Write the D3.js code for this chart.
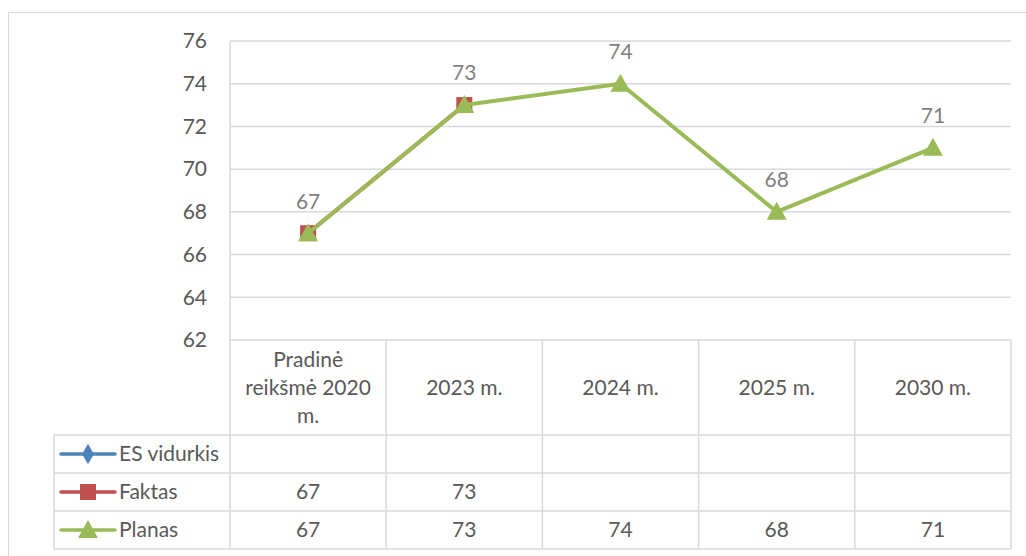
<!DOCTYPE html>
<html><head><meta charset="utf-8">
<script src="https://cdn.jsdelivr.net/npm/d3@7"></script>
<style>body{margin:0;background:#fff}svg{display:block}text{font-family:Lato,"Open Sans",sans-serif}</style>
</head><body><svg id="c" width="1026" height="556"></svg>
<script>
const categories = ["Pradinė reikšmė 2020 m.", "2023 m.", "2024 m.", "2025 m.", "2030 m."];
const categoryLines = [["Pradinė","reikšmė 2020","m."],["2023 m."],["2024 m."],["2025 m."],["2030 m."]];
const esVidurkis = [null, null, null, null, null];
const faktas = [67, 73, null, null, null];
const planas = [67, 73, 74, 68, 71];
const yTicks = [62, 64, 66, 68, 70, 72, 74, 76];
const seriesNames = ["ES vidurkis", "Faktas", "Planas"];

const svg = d3.select("#c");
const L = 230, R = 1011, T = 41, B = 340;
const tableBottom = 549, headerBottom = 435, legendLeft = 54;
const FS = 21;
const x = d3.scaleBand().domain(categories).range([L, R]);
const y = d3.scaleLinear().domain([62, 76]).range([B, T]);
const grid = "#d9d9d9";

svg.append("rect").attr("x", 8.5).attr("y", 12.5).attr("width", 1030).attr("height", 560)
  .attr("fill", "none").attr("stroke", grid);

svg.append("g").selectAll("line").data(yTicks).join("line")
  .attr("x1", L).attr("x2", R).attr("y1", d => y(d)).attr("y2", d => y(d))
  .attr("stroke", grid).attr("stroke-width", 1.5);

const ya = svg.append("g").attr("transform", `translate(${L - 23},0)`)
  .call(d3.axisLeft(y).tickValues(yTicks).tickSize(0).tickPadding(0));
ya.select(".domain").remove();
ya.selectAll("text").attr("font-size", FS).attr("fill", "#595959").attr("font-family", "Lato,'Open Sans',sans-serif");

svg.append("line").attr("x1", L).attr("x2", L).attr("y1", T).attr("y2", tableBottom).attr("stroke", grid).attr("stroke-width", 1.5);

const rowsY = [headerBottom, 473, 511, tableBottom];
const tg = svg.append("g").attr("stroke", grid).attr("stroke-width", 1.5);
categories.forEach(c => {
  tg.append("line").attr("x1", x(c) + x.bandwidth()).attr("x2", x(c) + x.bandwidth())
    .attr("y1", B).attr("y2", tableBottom);
});
rowsY.forEach(ry => tg.append("line").attr("x1", legendLeft).attr("x2", R).attr("y1", ry).attr("y2", ry));
tg.append("line").attr("x1", legendLeft).attr("x2", legendLeft).attr("y1", headerBottom).attr("y2", tableBottom);

categoryLines.forEach((lines, i) => {
  const cx = x(categories[i]) + x.bandwidth() / 2;
  const n = lines.length, lh = 28, midY = (B + headerBottom) / 2;
  lines.forEach((t, j) => {
    svg.append("text").attr("x", cx).attr("y", midY + (j - (n - 1) / 2) * lh)
      .attr("dy", "0.35em").attr("text-anchor", "middle").attr("font-size", FS).attr("fill", "#595959").text(t);
  });
});

const colors = ["#4F81BD", "#C0504D", "#9BBB59"];
const allSeries = [esVidurkis, faktas, planas];

seriesNames.forEach((name, i) => {
  const cy = (rowsY[i] + rowsY[i + 1]) / 2;
  svg.append("line").attr("x1", 61).attr("x2", 115).attr("y1", cy).attr("y2", cy)
    .attr("stroke", colors[i]).attr("stroke-width", 3.5).attr("stroke-linecap", "round");
  drawMarker(i, 88, cy);
  svg.append("text").attr("x", 119).attr("y", cy).attr("dy", "0.35em").attr("font-size", FS)
    .attr("fill", "#595959").text(name);
  allSeries[i].forEach((v, k) => {
    if (v == null) return;
    svg.append("text").attr("x", x(categories[k]) + x.bandwidth() / 2).attr("y", cy).attr("dy", "0.35em")
      .attr("text-anchor", "middle").attr("font-size", FS).attr("fill", "#595959").text(v);
  });
});

function drawMarker(i, cx, cy) {
  if (i === 0) {
    svg.append("path").attr("d", d3.symbol(d3.symbolDiamond, 120)()).attr("transform", `translate(${cx},${cy})`).attr("fill", colors[0]);
  } else if (i === 1) {
    svg.append("rect").attr("x", cx - 8).attr("y", cy - 8).attr("width", 16).attr("height", 16).attr("fill", colors[1]);
  } else {
    svg.append("path").attr("d", "M0,-10L10,8L-10,8Z").attr("transform", `translate(${cx},${cy})`).attr("fill", colors[2]);
  }
}

const line = d3.line().defined(d => d.v != null).x(d => x(d.c) + x.bandwidth() / 2).y(d => y(d.v));
allSeries.forEach((s, i) => {
  const data = s.map((v, k) => ({ c: categories[k], v }));
  svg.append("path").datum(data).attr("d", line).attr("fill", "none")
    .attr("stroke", colors[i]).attr("stroke-width", 4).attr("stroke-linejoin", "round");
  data.forEach(d => { if (d.v != null) drawMarker(i, x(d.c) + x.bandwidth() / 2, y(d.v)); });
});

planas.forEach((v, k) => {
  svg.append("text").attr("x", x(categories[k]) + x.bandwidth() / 2).attr("y", y(v) - 32).attr("dy", "0.35em")
    .attr("text-anchor", "middle").attr("font-size", FS).attr("fill", "#7f7f7f").text(v);
});
</script></body></html>
